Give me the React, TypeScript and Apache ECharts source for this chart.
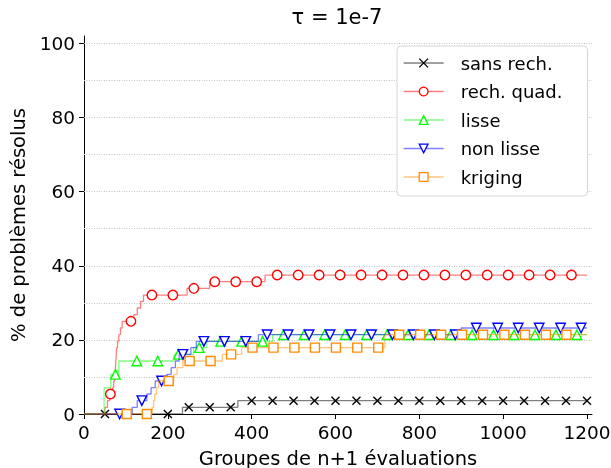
import React, { useEffect, useRef } from "react";
import * as echarts from "echarts";

const TITLE = "τ = 1e-7";
const X_LABEL = "Groupes de n+1 évaluations";
const Y_LABEL = "% de problèmes résolus";
const SERIES_NAMES = ["sans rech.", "rech. quad.", "lisse", "non lisse", "kriging"];

const X_TICKS = [0, 200, 400, 600, 800, 1000, 1200];
const Y_TICKS = [0, 20, 40, 60, 80, 100];
const Y_GRID = [10, 20, 30, 40, 50, 60, 70, 80, 90, 100];

// step breakpoints [x, % solved] (value holds until the next breakpoint)
const sansRechSteps = [[0, 0], [235, 1.8], [367, 3.6], [1200, 3.6]];
const rechQuadSteps = [
  [0, 0], [50, 1.8], [56, 3.6], [61, 5.4], [68, 7.1], [71, 8.9], [73, 10.7], [75, 12.5],
  [76, 14.3], [77, 16.1], [78, 17.9], [80, 19.6], [83, 21.4], [87, 23.2], [91, 25.0],
  [119, 26.8], [127, 28.6], [135, 30.4], [142, 32.1], [246, 33.9], [300, 35.7], [432, 37.5], [1200, 37.5],
];
const lisseSteps = [
  [0, 0], [48, 7.1], [64, 10.7], [83, 14.3], [215, 16.1], [261, 17.9], [293, 19.6], [450, 21.4], [1200, 21.4],
];
const nonLisseSteps = [
  [0, 0], [115, 1.8], [127, 3.6], [150, 5.4], [160, 7.1], [170, 8.9], [198, 10.7], [208, 12.5],
  [218, 14.3], [227, 16.1], [255, 17.9], [268, 19.6], [416, 21.4], [900, 23.2], [1200, 23.2],
];
const krigingSteps = [
  [0, 0], [163, 1.8], [166, 3.6], [169, 5.4], [173, 7.1], [178, 8.9], [214, 10.7], [222, 12.5],
  [236, 14.3], [330, 16.1], [376, 17.9], [718, 21.4], [1200, 21.4],
];

// x positions of the markers
const sansRechMarks = [50, 100, 150, 200, 250, 300, 350, 400, 450, 500, 550, 600, 650, 700, 750, 800, 850, 900, 950, 1000, 1050, 1100, 1150, 1200];
const rechQuadMarks = [63, 112, 162, 212, 262, 312, 362, 412, 461, 511, 561, 611, 661, 711, 761, 811, 861, 911, 962, 1012, 1062, 1112, 1163];
const lisseMarks = [75, 126, 176, 225, 275, 326, 376, 426, 476, 525, 574, 623, 674, 723, 773, 823, 875, 926, 977, 1026, 1076, 1126, 1176];
const nonLisseMarks = [85, 138, 185, 236, 286, 335, 386, 437, 487, 537, 587, 637, 686, 736, 786, 836, 886, 936, 987, 1036, 1086, 1137, 1186];
const krigingMarks = [102, 150, 202, 252, 302, 351, 402, 452, 502, 551, 601, 652, 702, 752, 802, 852, 902, 952, 1003, 1052, 1102, 1151];

const COLORS = ["#000000", "#ff0000", "#00ff00", "#0000ff", "#ff8c00"];
const SYMBOLS = [
  "path://M0,0L10,10M0,10L10,0",
  "circle",
  "path://M5,0L10,10L0,10Z",
  "path://M0,0L10,0L5,10Z",
  "rect",
];
const SYMBOL_SIZES = [8, 9.5, 9.5, 9.5, 9];

function buildData(steps: number[][], marks: number[]) {
  const xs = Array.from(new Set([...steps.map((s) => s[0]), ...marks])).sort((a, b) => a - b);
  return xs.map((x) => {
    let y = steps[0][1];
    for (const [sx, sy] of steps) if (sx <= x) y = sy;
    return marks.includes(x) ? { value: [x, y] } : { value: [x, y], symbol: "none" };
  });
}

const ALL_STEPS = [sansRechSteps, rechQuadSteps, lisseSteps, nonLisseSteps, krigingSteps];
const ALL_MARKS = [sansRechMarks, rechQuadMarks, lisseMarks, nonLisseMarks, krigingMarks];

export default function App() {
  const ref = useRef<HTMLDivElement>(null);
  useEffect(() => {
    const chart = echarts.init(ref.current!, null, { renderer: "svg" });
    const font = "DejaVu Sans";
    const series: any[] = SERIES_NAMES.map((name, i) => ({
      name,
      type: "line",
      step: "end",
      data: buildData(ALL_STEPS[i], ALL_MARKS[i]),
      symbol: SYMBOLS[i],
      symbolSize: SYMBOL_SIZES[i],
      showAllSymbol: true,
      lineStyle: { color: COLORS[i], width: 1.3, opacity: 0.5 },
      itemStyle: { color: "#ffffff", borderColor: COLORS[i], borderWidth: 1.4 },
      emphasis: { disabled: true },
      z: 3 + i,
    }));
    series[0].markLine = {
      silent: true,
      symbol: ["none", "none"],
      label: { show: false },
      lineStyle: { color: "#c4c4c4", type: [1, 1.5], width: 1 },
      emphasis: { disabled: true },
      z: 1,
      data: Y_GRID.map((v) => ({ yAxis: v })),
    };
    chart.setOption({
      animation: false,
      textStyle: { fontFamily: font },
      title: {
        text: TITLE,
        left: 337,
        top: 6,
        padding: 0,
        textAlign: "center",
        textStyle: { fontSize: 21, fontWeight: "normal", color: "#000", fontFamily: font },
      },
      grid: { left: 84, right: 19, top: 36, bottom: 54, containLabel: false, outerBoundsMode: "none" },
      xAxis: {
        type: "value",
        min: 0,
        max: 1212,
        interval: 200,
        name: X_LABEL,
        nameLocation: "middle",
        nameGap: 34,
        nameTextStyle: { fontSize: 19.5, color: "#000", fontFamily: font },
        axisLine: { show: true, onZero: false, lineStyle: { color: "#000", width: 1 } },
        axisTick: { show: true, length: 5, customValues: X_TICKS, lineStyle: { color: "#000" } },
        axisLabel: {
          fontSize: 18.5, color: "#000", margin: 9, customValues: X_TICKS, fontFamily: font,
          formatter: (v: number) => String(v),
        },
        splitLine: { show: false },
      },
      yAxis: {
        type: "value",
        min: 0,
        max: 102,
        interval: 20,
        name: Y_LABEL,
        nameLocation: "middle",
        nameGap: 56,
        nameTextStyle: { fontSize: 19.5, color: "#000", fontFamily: font },
        axisLine: { show: true, onZero: false, lineStyle: { color: "#000", width: 1 } },
        axisTick: { show: true, length: 5, customValues: Y_TICKS, lineStyle: { color: "#000" } },
        axisLabel: {
          fontSize: 18.5, color: "#000", margin: 9, customValues: Y_TICKS, fontFamily: font,
          formatter: (v: number) => String(v),
        },
        splitLine: { show: false },
      },
      legend: {
        data: SERIES_NAMES,
        orient: "vertical",
        left: 397,
        top: 46,
        itemWidth: 40,
        itemHeight: 11,
        itemGap: 10.5,
        padding: [8, 25, 10, 6],
        backgroundColor: "#ffffff",
        borderColor: "#d5d5d5",
        borderWidth: 1,
        borderRadius: 4,
        selectedMode: false,
        itemStyle: { borderWidth: 1.3 },
        lineStyle: { width: 1.3 },
        textStyle: { fontSize: 18, color: "#000", fontFamily: font, padding: [0, 0, 0, 12] },
      },
      series,
    });
    return () => chart.dispose();
  }, []);
  return <div ref={ref} style={{ position: "fixed", left: 0, top: 0, width: 611, height: 468 }} />;
}
